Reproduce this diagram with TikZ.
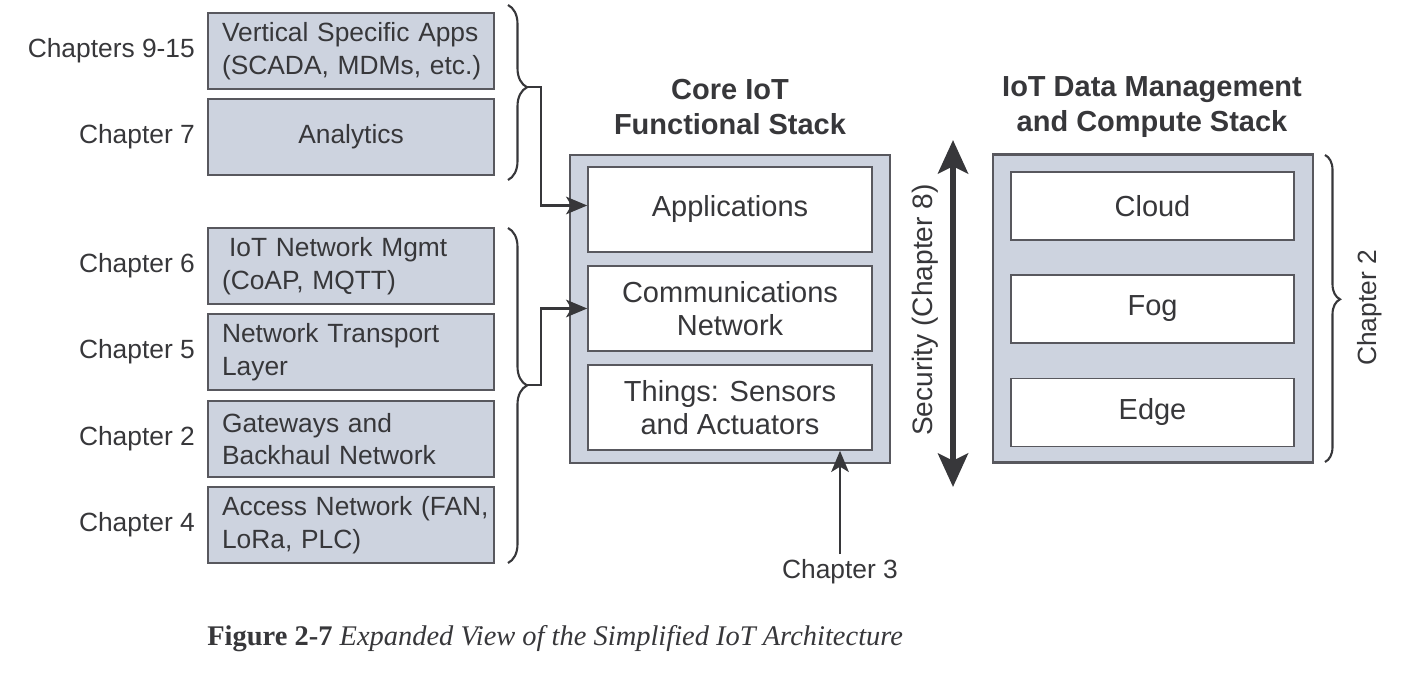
\documentclass[tikz,border=0pt]{standalone}
\usepackage{fontspec}
\setmainfont{Liberation Sans}
\newfontfamily\capfont{Liberation Serif}
\usetikzlibrary{arrows.meta,decorations.pathreplacing}
\definecolor{stackfill}{RGB}{205,211,223}
\definecolor{edgegray}{RGB}{88,88,94}
\definecolor{inkgray}{RGB}{55,55,58}
\tikzset{
	layer/.style={draw=edgegray, fill=stackfill, line width=1pt, minimum width=5.72cm, minimum height=1.52cm, inner sep=0pt, text width=5.16cm, align=left, text=inkgray, font=\fontsize{15}{18.5}\selectfont},
	chap/.style={text=inkgray, inner sep=0pt, font=\fontsize{15}{18}\selectfont},
	stackframe/.style={draw=edgegray, fill=stackfill, line width=1.2pt, minimum width=6.4cm, minimum height=6.16cm, inner sep=0pt},
	slot/.style={draw=edgegray, fill=white, line width=1pt, inner sep=0pt, align=center, text=inkgray, font=\fontsize{16.5}{19}\selectfont},
	stacktitle/.style={align=center, text=inkgray, font=\bfseries\fontsize{16.5}{20}\selectfont},
	feed/.style={draw=inkgray, line width=1.4pt, -{Stealth[length=12pt,width=10pt,inset=3pt]}},
	curly/.style={draw=inkgray, line width=1.2pt, decorate, decoration={brace, amplitude=#1, aspect=0.47}},
	curly/.default=0.38cm,
	secarrow/.style={draw=inkgray, line width=3.4pt, {Stealth[length=19pt,width=17pt,inset=4pt]}-{Stealth[length=19pt,width=17pt,inset=4pt]}}
}

\begin{document}
\begin{tikzpicture}[x=0.02cm, y=-0.02cm]
	\useasboundingbox (0,0) rectangle (1402,675);
	
	\foreach \n/\y/\ch/\txt in {
		vsa/51/{Chapters 9-15}/{\mbox{Vertical Specific Apps}\\\mbox{(SCADA, MDMs, etc.)}},
		ana/137/{Chapter 7}/{\makebox[5.16cm]{Analytics}},
		mgmt/266/{Chapter 6}/{\hspace*{0.14cm}IoT Network Mgmt\\(CoAP, MQTT)},
		trans/352/{Chapter 5}/{Network Transport\\Layer},
		gw/439/{Chapter 2}/{Gateways and\\Backhaul Network},
		acc/525/{Chapter 4}/{\mbox{Access Network (FAN,}\\LoRa, PLC)}} {
		\node[layer] (\n) at (351,\y) {\txt};
		\node[chap, anchor=east] (\n-ch) at ([xshift=-0.24cm]\n.west) {\ch};
	}
	
	\draw[curly] (508,5) -- (508,180);
	\draw[curly] (508,228) -- (508,563);
	\coordinate (toptip) at (527,87);
	\coordinate (lowtip) at (527,385);
	
	\node[stacktitle] (coretitle) at (730,107) {Core IoT\\Functional Stack};
	\node[stackframe] (core) at (730,309) {};
	\node[slot, minimum width=5.68cm, minimum height=1.7cm] (app) at (730,209.5) {Applications};
	\node[slot, minimum width=5.68cm, minimum height=1.7cm] (comm) at (730,308.5) {Communications\\Network};
	\node[slot, minimum width=5.68cm, minimum height=1.7cm] (things) at (730,407.5) {Things: Sensors\\and Actuators};
	
	\draw[feed] (toptip) -- ++(14,0) |- ([yshift=0.08cm]app.west);
	\draw[feed] (lowtip) -- ++(14,0) |- (comm.west);
	
	\node[chap] (ch3) at (840,572) {Chapter 3};
	\draw[feed] ([yshift=3pt]ch3.north) -- (ch3.north |- things.south);
	
	\coordinate (sectop) at (953,140);
	\coordinate (secbot) at (953,487);
	\draw[secarrow] (sectop) -- (secbot);
	\node[chap, rotate=90, font=\fontsize{16}{18}\selectfont] (sec) at (925,310) {Security (Chapter 8)};
	
	\node[stacktitle] (datatitle) at (1152,107) {IoT Data Management\\and Compute Stack};
	\node[stackframe] (data) at (1153,308.5) {};
	\foreach \n/\y/\txt in {cloud/206/Cloud, fog/309/Fog, edge/412.5/Edge} {
		\node[slot, minimum width=5.66cm, minimum height=1.36cm] (\n) at (1152.5,\y) {\txt};
	}
	\draw[curly=0.3cm] (1325,155) -- (1325,462);
	\node[chap, rotate=90] (ch2) at (1370,308) {Chapter 2};
	
	\node[anchor=base west, inner sep=0pt, text=inkgray, font=\capfont\fontsize{16.2}{18}\selectfont] (cap) at (207,645) {\textbf{Figure 2-7} \textit{Expanded View of the Simplified IoT Architecture}};
\end{tikzpicture}
\end{document}
